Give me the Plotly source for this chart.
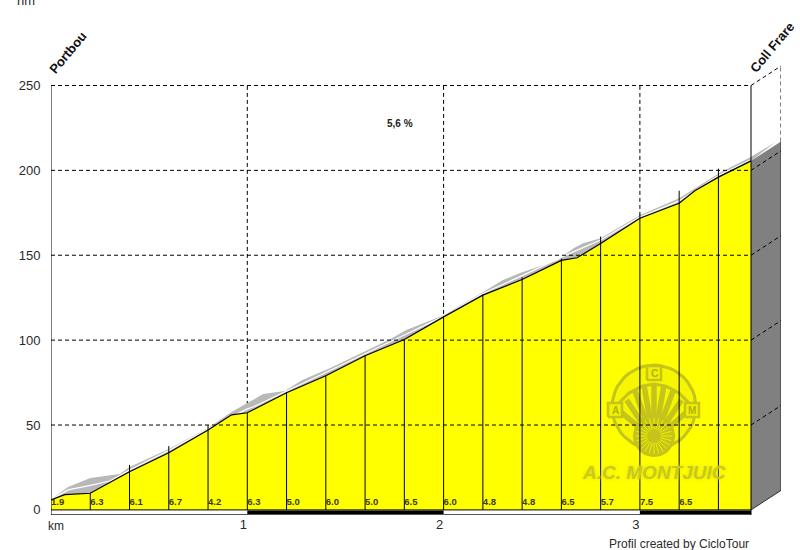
import plotly.graph_objects as go
import math

# --- data ---
profile_km = [0, 0.07, 0.2, 0.4, 0.6, 0.8, 0.92, 1.0, 1.2, 1.4, 1.6, 1.8, 2.0, 2.2, 2.4, 2.6, 2.68, 2.8, 3.0, 3.2, 3.28, 3.4, 3.566]
profile_m = [5.9, 9, 9.8, 22.5, 33.7, 47, 56, 57.2, 69, 79, 90.8, 100.4, 113.7, 126.5, 135.7, 147, 148.5, 156.9, 171.8, 180.6, 188, 196, 205.6]

shadow_km = [0.005, 0.087, 0.2, 0.35, 0.4, 0.6, 0.8, 0.92, 1.0, 1.08, 1.19, 1.28, 1.42, 1.59, 1.73, 1.81, 2.0, 2.2, 2.3, 2.4, 2.58, 2.66, 2.71, 2.8, 3.0, 3.2, 3.41, 3.56, 3.69]
shadow_m = [6.5, 13.5, 18.8, 21.2, 25.3, 35.9, 48.2, 57.6, 62.9, 68.2, 70, 76.5, 83.5, 92.9, 100.6, 105.9, 114.7, 128.2, 135.3, 140, 147, 154, 157, 160, 173.5, 183.5, 198.8, 207.6, 216.5]

gap_km = [0, 0.087, 0.2, 0.3, 0.4, 0.6, 0.8, 1.0, 1.03, 1.19, 1.4, 1.6, 1.8, 2.0, 2.2, 2.4, 2.6, 2.66, 2.8, 3.0, 3.2, 3.4, 3.56]
gap_m = [6, 11.8, 14.5, 17, 23.5, 35, 47.8, 59.5, 60.6, 69.5, 81, 92, 103, 114, 127.5, 138, 149, 152, 159, 172.5, 182, 197, 206]

marker_km = [0.2, 0.4, 0.6, 0.8, 1.0, 1.2, 1.4, 1.6, 1.8, 2.0, 2.2, 2.4, 2.6, 2.8, 3.0, 3.2, 3.4]
marker_top = [9.8, 26.5, 37.6, 50, 57.2, 69, 79, 91, 100.4, 114, 127, 137, 148, 161, 174, 188, 201]

grade_km = [0, 0.2, 0.4, 0.6, 0.8, 1.0, 1.2, 1.4, 1.6, 1.8, 2.0, 2.2, 2.4, 2.6, 2.8, 3.0, 3.2]
grade_lbl = ["1.9", "6.3", "6.1", "6.7", "4.2", "6.3", "5.0", "6.0", "5.0", "6.5", "6.0", "4.8", "4.8", "6.5", "5.7", "7.5", "6.5"]

grid_levels = [50, 100, 150, 200, 250]
km_ticks = [1, 2, 3]
km_labels = ["1", "2", "3"]
end_km = 3.566
end_m = 205.6
depth_km = 0.1528
depth_m = 11.5
wall_top_m = 217
band_black = [[1, 2], [3, end_km]]

TXT = "#2a2a2a"
F = "Liberation Sans"
fig = go.Figure()


def line(x, y, color="black", width=1, dash=None, **kw):
    fig.add_trace(go.Scatter(x=x, y=y, mode="lines", cliponaxis=False, showlegend=False, hoverinfo="skip",
                             line=dict(color=color, width=width, dash=dash), **kw))


def poly(x, y, color):
    fig.add_trace(go.Scatter(x=x, y=y, mode="lines", fill="toself", fillcolor=color, line=dict(width=0),
                             showlegend=False, hoverinfo="skip"))


# vertical dashed guides
for k in km_ticks:
    line([k, k], [0, 250], dash="4px,3px")
line([end_km + depth_km] * 2, [wall_top_m, 250 + depth_m], dash="4px,3px")

# grey shadow of the profile
poly(shadow_km + profile_km[::-1], shadow_m + profile_m[::-1], "#b8b8b8")
line(gap_km, gap_m, color="#ffffff", width=1.2)

# yellow area
poly([0] + profile_km + [end_km], [0] + profile_m + [0], "#ffff00")
# side wall
poly([end_km, end_km, end_km + depth_km, end_km + depth_km, end_km], [0, end_m, wall_top_m, depth_m, 0], "#808080")
line([end_km, end_km + depth_km, end_km + depth_km], [0, depth_m, wall_top_m], color="#303030", width=1)

# ---- watermark: decorative emblem, laid out in pixel offsets from its centre ----
OLIVE = "#c4c41c"
PALE = "#f2f200"
ax = (654 - 51) / 196.3
ay = (510 - 407) / 1.7


def lx(d):
    return ax + d / 196.3


def ly(d):
    return ay + d / 1.7


def ring(cx, cy, r, n=48):
    ts = [2 * math.pi * i / n for i in range(n + 1)]
    return [lx(cx + r * math.cos(t)) for t in ts], [ly(cy + r * math.sin(t)) for t in ts]


def lseg(pts, width, color=OLIVE):
    line([lx(p[0]) for p in pts], [ly(p[1]) for p in pts], color=color, width=width)


def disc(cx, cy, r, color):
    xs, ys = ring(cx, cy, r)
    poly(xs, ys, color)


def badge(cx, cy, s):
    poly([lx(cx - s), lx(cx + s), lx(cx + s), lx(cx - s), lx(cx - s)],
         [ly(cy - s), ly(cy - s), ly(cy + s), ly(cy + s), ly(cy - s)], PALE)
    lseg([(cx - s, cy - s), (cx + s, cy - s), (cx + s, cy + s), (cx - s, cy + s), (cx - s, cy - s)], 2.5)


disc(0, 0, 42, "#f6f600")
xs, ys = ring(0, 0, 42)
line(xs, ys, color=OLIVE, width=3)
for a in (-62, -46, -30, -15, 0, 15, 30, 46, 62):
    t = math.radians(a)
    lseg([(5 * math.sin(t), -29), (38 * math.sin(t), -29 + 52 * math.cos(t))], 5.5)
lseg([(-35, 4), (-25, 14), (-12, 21), (0, 23), (12, 21), (25, 14), (35, 4)], 3)
disc(0, -29, 21, OLIVE)
for i in range(12):
    t = math.pi * i / 12
    lseg([(-18 * math.cos(t), -29 - 18 * math.sin(t)), (18 * math.cos(t), -29 + 18 * math.sin(t))], 1, "#f0f000")
disc(0, -29, 7, OLIVE)
badge(0, 34, 7)
badge(-39, -3, 7)
badge(38, -3, 7)
logo_letters = [("C", 0, 34), ("A", -39, -3), ("M", 38, -3)]
for t, dx, dy in logo_letters:
    fig.add_annotation(x=ax, y=ay, xref="x", yref="y", text="<b>%s</b>" % t, showarrow=False, xshift=dx, yshift=dy,
                       font=dict(family=F, size=10, color="#b0b010"))
fig.add_annotation(x=ax, y=(510 - 473) / 1.7, xref="x", yref="y", text="<b><i>A.C. MONTJUIC</i></b>", showarrow=False,
                   font=dict(family=F, size=19, color="#c8c820", shadow="0 0 4px #e0e000"))

# dashed horizontal guides running onto the wall, with a short axis tick
for lv in grid_levels:
    line([0, end_km, end_km + depth_km], [lv, lv, lv + depth_m], dash="4px,3px")
    line([-0.0306, 0], [lv, lv], width=1)

# segment markers
for k, t in zip(marker_km, marker_top):
    line([k, k], [0, t], width=1)

# frame lines
line([0, 0], [-2.9, 250], width=1)
line([end_km, end_km], [-2.9, 250], width=1)
line([0, end_km], [0, 0], width=1)
line([0, end_km], [-2.9, -2.9], width=1)
for a, b in band_black:
    line([a, b], [-1.45, -1.45], width=3.5)

# profile line
line(profile_km, profile_m, width=1.2)

# grades
fig.add_trace(go.Scatter(x=grade_km, y=[4.2] * len(grade_km), mode="text", text=grade_lbl, textposition="middle right",
                         cliponaxis=False, showlegend=False, hoverinfo="skip",
                         textfont=dict(family=F, size=9.5, color="#3a3a10", weight="bold")))

fig.add_annotation(x=1.778, y=227.6, text="<b>5,6 %</b>", showarrow=False, font=dict(family=F, size=10, color="#222222"))
fig.add_annotation(xref="paper", yref="paper", x=0.0233, y=1.0165, xanchor="center", yanchor="middle", text="<b>Portbou</b>",
                   textangle=-50, showarrow=False, font=dict(family=F, size=13, color="#111111"))
fig.add_annotation(xref="paper", yref="paper", x=0.9877, y=1.0274, xanchor="center", yanchor="middle", text="<b>Coll Frare</b>",
                   textangle=-50, showarrow=False, font=dict(family=F, size=13, color="#111111"))
fig.add_annotation(xref="paper", yref="paper", x=-0.0342, y=1.1306, xanchor="center", yanchor="middle", text="hm", showarrow=False,
                   font=dict(family=F, size=13, color=TXT))
fig.add_annotation(x=0.025, y=-3, yanchor="top", yshift=-2, text="km", showarrow=False, font=dict(family=F, size=12, color=TXT))
fig.add_annotation(x=3.566, y=-3, xanchor="right", yanchor="top", yshift=-20, text="Profil created by CicloTour", showarrow=False,
                   font=dict(family=F, size=12, color=TXT))

fig.update_layout(
    width=800, height=550, margin=dict(l=51, r=19, t=59.5, b=34.9, autoexpand=False),
    paper_bgcolor="white", plot_bgcolor="white", showlegend=False,
    xaxis=dict(range=[0, 3.7188], tickvals=km_ticks, ticktext=km_labels, ticklabelshift=-4, showgrid=False, zeroline=False,
               showline=False, ticks="", tickfont=dict(family=F, size=13, color=TXT)),
    yaxis=dict(range=[-3, 265], tickvals=[0] + grid_levels, showgrid=False, zeroline=False, showline=False,
               ticks="outside", ticklen=6, ticklabelstandoff=1, tickcolor="rgba(0,0,0,0)", tickwidth=1,
               tickfont=dict(family=F, size=13, color=TXT)),
)
fig.write_html("out.html", config={"displayModeBar": False},
               post_script="document.body.style.margin='0';document.documentElement.style.overflow='hidden';")
